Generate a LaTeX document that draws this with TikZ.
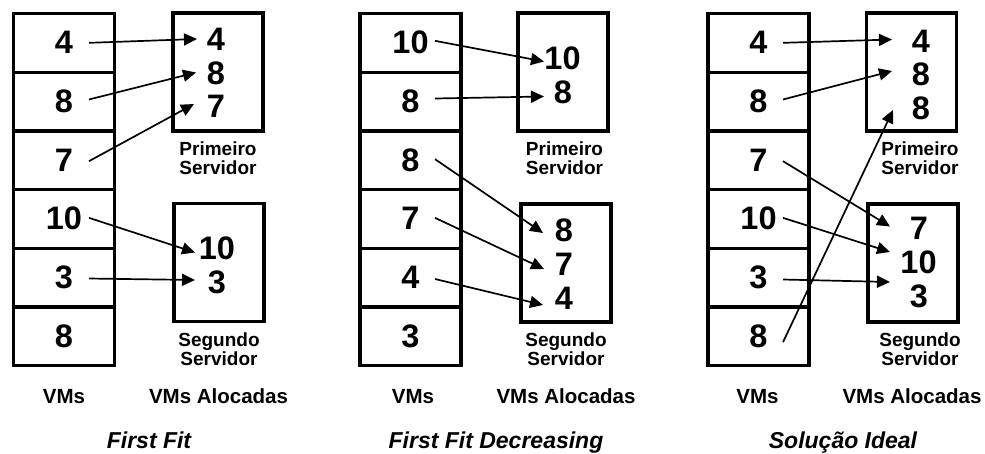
\documentclass[tikz,border=0pt]{standalone}
\usepackage{fontspec}
\setmainfont{Liberation Sans}
\usetikzlibrary{arrows.meta}

\begin{document}
\begin{tikzpicture}[x=1pt,y=-1pt,
  num/.style={font=\fontsize{32.5}{32}\selectfont\bfseries, text height=22pt, text depth=0pt, inner sep=0pt},
  vm/.style={num, draw, line width=3.3pt, minimum width=101pt, minimum height=58.7pt},
  srv/.style={draw, line width=3.3pt, minimum width=90pt, minimum height=118pt, inner sep=0pt},
  lbl/.style={font=\fontsize{19}{18.5}\selectfont\bfseries, align=center, inner sep=0pt},
  captxt/.style={font=\fontsize{20.5}{20}\selectfont\bfseries, inner sep=0pt, anchor=base},
  ttl/.style={font=\fontsize{23}{23}\selectfont\bfseries\itshape, inner sep=0pt, anchor=base},
  arr/.style={line width=1.7pt, -{Triangle[length=13pt,width=12pt]}}
]
\useasboundingbox (0,0) rectangle (985,454);

% ---------- VM columns ----------
\foreach \v [count=\i] in {4,8,7,10,3,8}
  \node[vm] (a\i) at (64,{13.5+58.67*(\i-0.5)}) {\v};
\foreach \v [count=\i] in {10,8,8,7,4,3}
  \node[vm] (b\i) at (410.5,{13.5+58.67*(\i-0.5)}) {\v};
\foreach \v [count=\i] in {4,8,7,10,3,8}
  \node[vm] (c\i) at (758.5,{13.5+58.67*(\i-0.5)}) {\v};

% ---------- server boxes ----------
\node[srv] (as1) at (218,72) {};
\node[srv] (as2) at (219,262.5) {};
\node[srv] (bs1) at (563,72) {};
\node[srv] (bs2) at (566,263) {};
\node[srv] (cs1) at (911.5,72) {};
\node[srv] (cs2) at (913,263) {};

% ---------- allocated VMs ----------
\node[num] (ap1) at (216,40) {4};
\node[num] (ap2) at (216,73.5) {8};
\node[num] (ap3) at (216,107) {7};
\node[num] (aq1) at (217,249) {10};
\node[num] (aq2) at (217,283) {3};

\node[num] (bp1) at (562.5,58.5) {10};
\node[num] (bp2) at (563,93) {8};
\node[num] (bq1) at (564,231) {8};
\node[num] (bq2) at (564,265) {7};
\node[num] (bq3) at (564,298.5) {4};

\node[num] (cp1) at (921,42) {4};
\node[num] (cp2) at (921,75) {8};
\node[num] (cp3) at (921,109) {8};
\node[num] (cq1) at (919,228.5) {7};
\node[num] (cq2) at (918.5,263) {10};
\node[num] (cq3) at (919,297) {3};

% ---------- server labels ----------
\node[lbl] (al1) at (218,158) {Primeiro\\Servidor};
\node[lbl] (al2) at (219,349) {Segundo\\Servidor};
\node[lbl] (bl1) at (564.5,158) {Primeiro\\Servidor};
\node[lbl] (bl2) at (566,349) {Segundo\\Servidor};
\node[lbl] (cl1) at (920,158) {Primeiro\\Servidor};
\node[lbl] (cl2) at (920,349) {Segundo\\Servidor};

% ---------- captions ----------
\node[captxt] (av) at (64,403) {VMs};
\node[captxt] (aa) at (218.5,403) {VMs Alocadas};
\node[captxt] (bv) at (413,403) {VMs};
\node[captxt] (ba) at (566,403) {VMs Alocadas};
\node[captxt] (cv) at (757.5,403) {VMs};
\node[captxt] (ca) at (912,403) {VMs Alocadas};

\node[ttl] (at) at (149,448) {First Fit};
\node[ttl] (bt) at (496,448) {First Fit Decreasing};
\node[ttl] (ct) at (843,448) {Solução Ideal};

% ---------- First Fit ----------
\draw[arr] ([shift={(25,0)}]a1.center) -- ([shift={(-19,-1)}]ap1.center);
\draw[arr] ([shift={(25,-2)}]a2.center) -- ([shift={(-20,-1)}]ap2.center);
\draw[arr] ([shift={(25,1)}]a3.center) -- ([shift={(-22,-3)}]ap3.center);
\draw[arr] ([shift={(25,-1)}]a4.center) -- ([shift={(-22,3.5)}]aq1.center);
\draw[arr] ([shift={(25,1)}]a5.center) -- ([shift={(-22,-3)}]aq2.center);

% ---------- First Fit Decreasing ----------
\draw[arr] ([shift={(24.5,-2)}]b1.center) -- ([shift={(-18.5,3)}]bp1.center);
\draw[arr] ([shift={(24.5,-3)}]b2.center) -- ([shift={(-19,3.5)}]bp2.center);
\draw[arr] ([shift={(24.5,-1)}]b3.center) -- ([shift={(-21,2)}]bq1.center);
\draw[arr] ([shift={(24.5,-1)}]b4.center) -- ([shift={(-20,4)}]bq2.center);
\draw[arr] ([shift={(24.5,1.5)}]b5.center) -- ([shift={(-21,6.5)}]bq3.center);

% ---------- Solução Ideal ----------
\draw[arr] ([shift={(24.5,0)}]c1.center) -- ([shift={(-29,-2.5)}]cp1.center);
\draw[arr] ([shift={(24.5,-2)}]c2.center) -- ([shift={(-29,-4)}]cp2.center);
\draw[arr] ([shift={(24.5,6)}]c6.center) -- ([shift={(-28,1)}]cp3.center);
\draw[arr] ([shift={(24.5,1)}]c3.center) -- ([shift={(-29,-2)}]cq1.center);
\draw[arr] ([shift={(24.5,-1)}]c4.center) -- ([shift={(-28.5,-11)}]cq2.center);
\draw[arr] ([shift={(24.5,2)}]c5.center) -- ([shift={(-29,-15)}]cq3.center);
\end{tikzpicture}
\end{document}
